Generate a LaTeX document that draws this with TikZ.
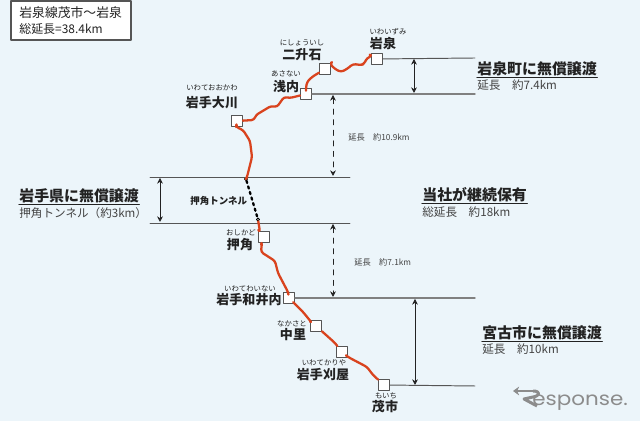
\documentclass[tikz,border=0pt]{standalone}
\usepackage{fontspec}
\setmainfont{Noto Sans CJK JP}
\newfontfamily\logofont{Poppins}
\usetikzlibrary{arrows.meta}
\definecolor{paper}{HTML}{ECF5FA}
\definecolor{ink}{HTML}{222222}
\definecolor{rail}{HTML}{D9431E}
\definecolor{rule}{HTML}{555555}
\tikzset{
  station/.style={draw=rule, fill=white, line width=0.55pt, minimum size=0.22cm, inner sep=0pt},
  kana/.style={text=ink, inner sep=0pt, font=\fontsize{4.2}{5}\selectfont},
  place/.style={text=ink, inner sep=0pt, font=\bfseries\fontsize{7.4}{9}\selectfont},
  heading/.style={text=ink, inner sep=0pt, anchor=west, font=\bfseries\fontsize{8.5}{10}\selectfont},
  detail/.style={text=ink!85, inner sep=0pt, anchor=west, font=\fontsize{6.6}{8}\selectfont},
  tiny/.style={text=ink!85, inner sep=0pt, anchor=west, font=\fontsize{4.7}{6}\selectfont},
  route/.style={draw=rail, line width=1.3pt, rounded corners=1.5pt},
  level/.style={draw=rule, line width=0.55pt},
  thicklevel/.style={draw=rule!75, line width=0.85pt},
  span/.style={draw=ink, line width=0.4pt, <->, >={Stealth[length=3.2pt,width=3.2pt]}},
  portal/.style={circle, draw=black, fill=white, line width=0.45pt, minimum size=0.06cm, inner sep=0pt}
}

\begin{document}
\begin{tikzpicture}[x=0.02cm, y=-0.02cm, line cap=round, line join=round]

% Page
\fill[paper] (0,0) rectangle (640,421);
\useasboundingbox (0,0) rectangle (640,421);

% Title box
\node[draw=rule, fill=white, line width=0.6pt, minimum width=2.4cm, minimum height=0.78cm] (title) at (71,20.5) {};
\node[text=ink, inner sep=0pt, anchor=west, font=\fontsize{7.3}{9}\selectfont] (titleA) at (19,13) {岩泉線茂市～岩泉};
\node[text=ink, inner sep=0pt, anchor=west, font=\fontsize{6.8}{9}\selectfont] (titleB) at (19,29) {総延長=38.4km};

% Stations
\node[station] (iwaizumi) at (377,59) {};
\node[station] (nishoishi) at (325,69) {};
\node[station] (asanai) at (306,94) {};
\node[station] (okawa) at (237,121) {};
\node[station] (oshikado) at (264,237) {};
\node[station] (wainai) at (289,298) {};
\node[station] (nakasato) at (316,326) {};
\node[station] (kariya) at (342,352) {};
\node[station] (moichi) at (384,385) {};

% Tunnel mouths
\node[portal] (portalN) at (246,179) {};
\node[portal] (portalS) at (258,219.5) {};

% Line ends
\coordinate (topEnd) at (475,58);
\coordinate (asanaiEnd) at (475,94);
\coordinate (upperL) at (150,177);
\coordinate (upperR) at (350,177);
\coordinate (lowerL) at (150,223);
\coordinate (lowerR) at (350,223);
\coordinate (wainaiEnd) at (475,298);
\coordinate (moichiEnd) at (475,386);

% Levels
\draw[level] (iwaizumi) -- (topEnd);
\draw[thicklevel] (asanai) -- (asanaiEnd);
\draw[level] (upperL) -- (upperR);
\draw[level] (lowerL) -- (lowerR);
\draw[thicklevel] (wainai) -- (wainaiEnd);
\draw[level] (moichi) -- (moichiEnd);

% Route
\draw[route] (iwaizumi) -- (372,56) -- (367,58) -- (364,64) -- (361,65) -- (353,64) -- (347,69) -- (341,72) -- (335,69) -- (330,64) -- (nishoishi);
\draw[route] (nishoishi) -- (312,77) -- (307,82) -- (306,88) -- (asanai);
\draw[route] (asanai) -- (290,98) -- (284,97) -- (277,107) -- (271,106) -- (256,115) -- (254,120) -- (okawa);
\draw[route] (okawa) -- (236,127) -- (243,130) -- (250,141) -- (252,157) -- (247,177) -- (portalN);
\draw[route] (portalS) -- (260,232) -- (oshikado);
\draw[route] (oshikado) -- (262,242) -- (261,252) -- (275,261) -- (278,273) -- (288,292) -- (wainai);
\draw[route] (wainai) -- (295,304) -- (303,312) -- (312,323) -- (nakasato);
\draw[route] (nakasato) -- (335,343) -- (kariya);
\draw[route] (kariya) -- (348,357) -- (367,367) -- (373,375) -- (moichi);

% Tunnel
\draw[black, line width=1.3pt, dotted] (portalN) -- (portalS);

% Spans
\coordinate (a1) at (414,59);
\coordinate (a2) at (414,93);
\coordinate (b1) at (333,95);
\coordinate (b2) at (333,176);
\coordinate (c1) at (160,178);
\coordinate (c2) at (160,222);
\coordinate (d1) at (333,224);
\coordinate (d2) at (333,297);
\coordinate (e1) at (415,299);
\coordinate (e2) at (415,385);
\draw[span] (a1) -- (a2);
\draw[span, dashed] (b1) -- (b2);
\draw[span] (c1) -- (c2);
\draw[span, dashed] (d1) -- (d2);
\draw[span] (e1) -- (e2);

% Station labels
\node[kana] (kanaA) at (388,32) {いわいずみ};
\node[place] (nameA) at (383,44) {岩泉};
\node[kana] (kanaB) at (302,43) {にしょういし};
\node[place] (nameB) at (302,55) {二升石};
\node[kana] (kanaC) at (286,74) {あさない};
\node[place] (nameC) at (286,87) {浅内};
\node[kana] (kanaD) at (212,88) {いわておおかわ};
\node[place] (nameD) at (212,103) {岩手大川};
\node[kana] (kanaE) at (241,233) {おしかど};
\node[place] (nameE) at (240,245) {押角};
\node[kana] (kanaF) at (250,289) {いわてわいない};
\node[place] (nameF) at (249,300) {岩手和井内};
\node[kana] (kanaG) at (292,324) {なかさと};
\node[place] (nameG) at (293,335) {中里};
\node[kana] (kanaH) at (324,363) {いわてかりや};
\node[place] (nameH) at (323,375) {岩手刈屋};
\node[kana] (kanaI) at (386,396) {もいち};
\node[place] (nameI) at (385,407) {茂市};

% Sections
\node[heading] (headN) at (477,69) {岩泉町に無償譲渡};
\draw[ink, line width=0.8pt] ([yshift=-0.6pt]headN.south west) -- ([yshift=-0.6pt]headN.south east);
\node[detail] (noteN) at (477,85) {延長　約7.4km};

\node[heading] (headK) at (19,196) {岩手県に無償譲渡};
\draw[ink, line width=0.8pt] ([yshift=-0.6pt]headK.south west) -- ([yshift=-0.6pt]headK.south east);
\node[detail] (noteK) at (19,213) {押角トンネル（約3km）};

\node[heading] (headJ) at (422,195) {当社が継続保有};
\draw[ink, line width=0.8pt] ([yshift=-0.6pt]headJ.south west) -- ([yshift=-0.6pt]headJ.south east);
\node[detail] (noteJ) at (422,212) {総延長　約18km};

\node[heading] (headS) at (482,333) {宮古市に無償譲渡};
\draw[ink, line width=0.8pt] ([yshift=-0.6pt]headS.south west) -- ([yshift=-0.6pt]headS.south east);
\node[detail] (noteS) at (482,349) {延長　約10km};

% Small notes
\node[tiny] (noteB) at (348,137) {延長　約10.9km};
\node[tiny] (noteD) at (354,262) {延長　約7.1km};
\node[text=ink, inner sep=0pt, anchor=west, font=\bfseries\fontsize{5.4}{6}\selectfont] (tunnel) at (190,201) {押角トンネル};

% Logo
\draw[black!45, line width=1.5pt, line cap=butt, -{Stealth[length=3.5pt,width=5pt]}] (535,391) -- (513,391);
\draw[black!45, line width=1.7pt, line cap=butt] (533,391) .. controls (541,391) and (540,396) .. (533,397) -- (524,399) -- (537,406);
\node[text=black!45, inner sep=0pt, anchor=base west, xscale=1.13, font=\logofont\fontsize{10.8}{11}\selectfont] (logoB) at (532,406) {esponse.};

\end{tikzpicture}
\end{document}
